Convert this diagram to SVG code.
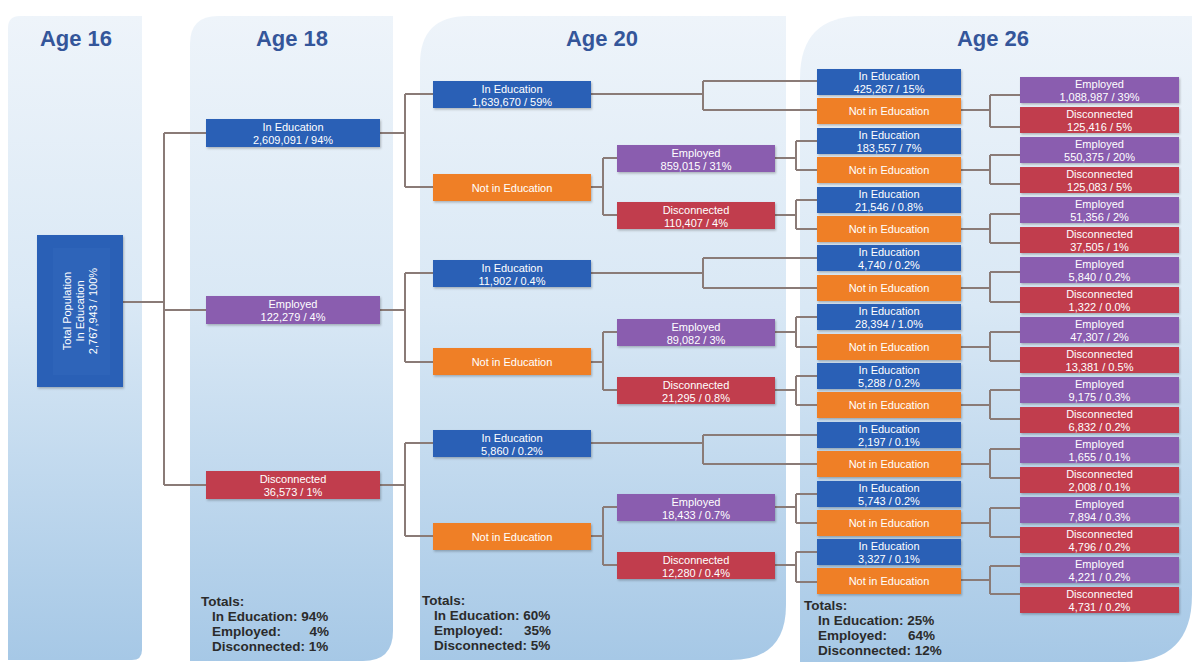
<svg xmlns="http://www.w3.org/2000/svg" width="1196" height="663" viewBox="0 0 1196 663">
<defs>
<linearGradient id="pg" x1="0" y1="0" x2="0" y2="1">
<stop offset="0" stop-color="#eef4fa"/>
<stop offset="0.45" stop-color="#d9e8f5"/>
<stop offset="1" stop-color="#a6c8e6"/>
</linearGradient>
<filter id="sh" x="-10%" y="-20%" width="120%" height="150%">
<feDropShadow dx="1" dy="1.5" stdDeviation="1" flood-color="#000" flood-opacity="0.25"/>
</filter>
</defs>
<style>
.panel{fill:url(#pg)}
.blue{fill:#2b61b6}
.orange{fill:#ef7f26}
.purple{fill:#8a5daf}
.red{fill:#c13c4e}
.box{filter:url(#sh)}
.lbl{font-family:"Liberation Sans",Arial,sans-serif;font-size:11px;fill:#fff;text-anchor:middle}
.conn path{stroke:#8a7b77;stroke-width:2;fill:none}
.head{font-family:"Liberation Sans",Arial,sans-serif;font-size:22px;font-weight:bold;fill:#34569a;text-anchor:middle}
.tot{font-family:"Liberation Sans",Arial,sans-serif;font-size:13.5px;font-weight:bold;fill:#2b2b2b}
.totr{font-family:"Liberation Sans",Arial,sans-serif;font-size:13.5px;font-weight:bold;fill:#2b2b2b;text-anchor:end}
</style>
<rect width="1196" height="663" fill="#fff"/>
<g id="panels">
<path class="panel" d="M8,28 Q8,16 20,16 H142 V650 Q142,660 132,660 H8 Z"/>
<path class="panel" d="M190,44 Q190,16 218,16 H393 V631 Q393,661 363,661 H190 Z"/>
<path class="panel" d="M420,64 Q420,16 468,16 H786 V605 Q786,660 731,660 H420 Z"/>
<path class="panel" d="M800,78 Q800,16 862,16 H1192 V595 Q1192,662 1125,662 H800 Z"/>
</g>
<g id="headings">
<text class="head" x="76" y="46">Age 16</text>
<text class="head" x="292" y="46">Age 18</text>
<text class="head" x="602" y="46">Age 20</text>
<text class="head" x="993" y="46">Age 26</text>
</g>
<g class="conn" id="connectors">
<path d="M123,302 H164 M164,133 V485 M164,133 H206 M164,310 H206 M164,485 H206"/>
<path d="M380,133 H405 M405,94 V187 M405,94 H433 M405,187 H433"/>
<path d="M380,310 H405 M405,273 V362 M405,273 H433 M405,362 H433"/>
<path d="M380,485 H405 M405,443 V536 M405,443 H433 M405,536 H433"/>
<path d="M591,94 H703 M703,81 V110 M703,81 H817 M703,110 H817"/>
<path d="M591,187 H603 M603,158 V215 M603,158 H617 M603,215 H617"/>
<path d="M775,158 H796 M796,141 V170 M796,141 H817 M796,170 H817"/>
<path d="M775,215 H796 M796,200 V229 M796,200 H817 M796,229 H817"/>
<path d="M591,273 H703 M703,258 V288 M703,258 H817 M703,288 H817"/>
<path d="M591,362 H603 M603,332 V390 M603,332 H617 M603,390 H617"/>
<path d="M775,332 H796 M796,317 V347 M796,317 H817 M796,347 H817"/>
<path d="M775,390 H796 M796,376 V405 M796,376 H817 M796,405 H817"/>
<path d="M591,443 H703 M703,435 V464 M703,435 H817 M703,464 H817"/>
<path d="M591,536 H603 M603,507 V565 M603,507 H617 M603,565 H617"/>
<path d="M775,507 H796 M796,494 V523 M796,494 H817 M796,523 H817"/>
<path d="M775,565 H796 M796,552 V582 M796,552 H817 M796,582 H817"/>
<path d="M961,110 H990 M990,95 V127 M990,95 H1020 M990,127 H1020"/>
<path d="M961,170 H990 M990,155 V184 M990,155 H1020 M990,184 H1020"/>
<path d="M961,229 H990 M990,214 V243 M990,214 H1020 M990,243 H1020"/>
<path d="M961,288 H990 M990,272 V302 M990,272 H1020 M990,302 H1020"/>
<path d="M961,347 H990 M990,332 V361 M990,332 H1020 M990,361 H1020"/>
<path d="M961,405 H990 M990,390 V419 M990,390 H1020 M990,419 H1020"/>
<path d="M961,464 H990 M990,449 V478 M990,449 H1020 M990,478 H1020"/>
<path d="M961,523 H990 M990,508 V537 M990,508 H1020 M990,537 H1020"/>
<path d="M961,580 H990 M990,566 V594 M990,566 H1020 M990,594 H1020"/>
</g>
<g id="root">
<rect class="blue box" x="37" y="235" width="86" height="152"/>
<rect x="53" y="248" width="57" height="127" fill="#2e64b9"/>
<g transform="rotate(-90 80 311)">
<text class="lbl" x="80" y="302">Total Population</text>
<text class="lbl" x="80" y="315">In Education</text>
<text class="lbl" x="80" y="328">2,767,943 / 100%</text>
</g>
</g>
<g id="a18-ined"><rect class="blue box" x="206" y="119" width="174" height="28"/><text class="lbl" x="293" y="131">In Education</text><text class="lbl" x="293" y="144">2,609,091 / 94%</text></g>
<g id="a18-emp"><rect class="purple box" x="206" y="296" width="174" height="28"/><text class="lbl" x="293" y="308">Employed</text><text class="lbl" x="293" y="321">122,279 / 4%</text></g>
<g id="a18-dis"><rect class="red box" x="206" y="471" width="174" height="28"/><text class="lbl" x="293" y="483">Disconnected</text><text class="lbl" x="293" y="496">36,573 / 1%</text></g>

<g id="a20-ined-a"><rect class="blue box" x="433" y="81" width="158" height="27"/><text class="lbl" x="512" y="92.5">In Education</text><text class="lbl" x="512" y="105.5">1,639,670 / 59%</text></g>
<g id="a20-not-a"><rect class="orange box" x="433" y="174" width="158" height="27"/><text class="lbl" x="512" y="191.5">Not in Education</text></g>
<g id="a20-emp-a"><rect class="purple box" x="617" y="145" width="158" height="27"/><text class="lbl" x="696" y="156.5">Employed</text><text class="lbl" x="696" y="169.5">859,015 / 31%</text></g>
<g id="a20-dis-a"><rect class="red box" x="617" y="202" width="158" height="27"/><text class="lbl" x="696" y="213.5">Disconnected</text><text class="lbl" x="696" y="226.5">110,407 / 4%</text></g>
<g id="a20-ined-b"><rect class="blue box" x="433" y="260" width="158" height="27"/><text class="lbl" x="512" y="271.5">In Education</text><text class="lbl" x="512" y="284.5">11,902 / 0.4%</text></g>
<g id="a20-not-b"><rect class="orange box" x="433" y="348" width="158" height="27"/><text class="lbl" x="512" y="365.5">Not in Education</text></g>
<g id="a20-emp-b"><rect class="purple box" x="617" y="319" width="158" height="27"/><text class="lbl" x="696" y="330.5">Employed</text><text class="lbl" x="696" y="343.5">89,082 / 3%</text></g>
<g id="a20-dis-b"><rect class="red box" x="617" y="377" width="158" height="27"/><text class="lbl" x="696" y="388.5">Disconnected</text><text class="lbl" x="696" y="401.5">21,295 / 0.8%</text></g>
<g id="a20-ined-c"><rect class="blue box" x="433" y="430" width="158" height="27"/><text class="lbl" x="512" y="441.5">In Education</text><text class="lbl" x="512" y="454.5">5,860 / 0.2%</text></g>
<g id="a20-not-c"><rect class="orange box" x="433" y="523" width="158" height="27"/><text class="lbl" x="512" y="540.5">Not in Education</text></g>
<g id="a20-emp-c"><rect class="purple box" x="617" y="494" width="158" height="27"/><text class="lbl" x="696" y="505.5">Employed</text><text class="lbl" x="696" y="518.5">18,433 / 0.7%</text></g>
<g id="a20-dis-c"><rect class="red box" x="617" y="552" width="158" height="27"/><text class="lbl" x="696" y="563.5">Disconnected</text><text class="lbl" x="696" y="576.5">12,280 / 0.4%</text></g>

<g id="a26a-1"><rect class="blue box" x="817" y="69" width="144" height="26"/><text class="lbl" x="889" y="80">In Education</text><text class="lbl" x="889" y="93">425,267 / 15%</text></g>
<g id="a26a-2"><rect class="orange box" x="817" y="98" width="144" height="26"/><text class="lbl" x="889" y="115">Not in Education</text></g>
<g id="a26a-3"><rect class="blue box" x="817" y="128" width="144" height="26"/><text class="lbl" x="889" y="139">In Education</text><text class="lbl" x="889" y="152">183,557 / 7%</text></g>
<g id="a26a-4"><rect class="orange box" x="817" y="157" width="144" height="26"/><text class="lbl" x="889" y="174">Not in Education</text></g>
<g id="a26a-5"><rect class="blue box" x="817" y="187" width="144" height="26"/><text class="lbl" x="889" y="198">In Education</text><text class="lbl" x="889" y="211">21,546 / 0.8%</text></g>
<g id="a26a-6"><rect class="orange box" x="817" y="216" width="144" height="26"/><text class="lbl" x="889" y="233">Not in Education</text></g>
<g id="a26a-7"><rect class="blue box" x="817" y="245" width="144" height="26"/><text class="lbl" x="889" y="256">In Education</text><text class="lbl" x="889" y="269">4,740 / 0.2%</text></g>
<g id="a26a-8"><rect class="orange box" x="817" y="275" width="144" height="26"/><text class="lbl" x="889" y="292">Not in Education</text></g>
<g id="a26a-9"><rect class="blue box" x="817" y="304" width="144" height="26"/><text class="lbl" x="889" y="315">In Education</text><text class="lbl" x="889" y="328">28,394 / 1.0%</text></g>
<g id="a26a-10"><rect class="orange box" x="817" y="334" width="144" height="26"/><text class="lbl" x="889" y="351">Not in Education</text></g>
<g id="a26a-11"><rect class="blue box" x="817" y="363" width="144" height="26"/><text class="lbl" x="889" y="374">In Education</text><text class="lbl" x="889" y="387">5,288 / 0.2%</text></g>
<g id="a26a-12"><rect class="orange box" x="817" y="392" width="144" height="26"/><text class="lbl" x="889" y="409">Not in Education</text></g>
<g id="a26a-13"><rect class="blue box" x="817" y="422" width="144" height="26"/><text class="lbl" x="889" y="433">In Education</text><text class="lbl" x="889" y="446">2,197 / 0.1%</text></g>
<g id="a26a-14"><rect class="orange box" x="817" y="451" width="144" height="26"/><text class="lbl" x="889" y="468">Not in Education</text></g>
<g id="a26a-15"><rect class="blue box" x="817" y="481" width="144" height="26"/><text class="lbl" x="889" y="492">In Education</text><text class="lbl" x="889" y="505">5,743 / 0.2%</text></g>
<g id="a26a-16"><rect class="orange box" x="817" y="510" width="144" height="26"/><text class="lbl" x="889" y="527">Not in Education</text></g>
<g id="a26a-17"><rect class="blue box" x="817" y="539" width="144" height="26"/><text class="lbl" x="889" y="550">In Education</text><text class="lbl" x="889" y="563">3,327 / 0.1%</text></g>
<g id="a26a-18"><rect class="orange box" x="817" y="568" width="144" height="26"/><text class="lbl" x="889" y="585">Not in Education</text></g>

<g id="a26b-1"><rect class="purple box" x="1020" y="77" width="159" height="26"/><text class="lbl" x="1099.5" y="88">Employed</text><text class="lbl" x="1099.5" y="101">1,088,987 / 39%</text></g>
<g id="a26b-2"><rect class="red box" x="1020" y="107" width="159" height="26"/><text class="lbl" x="1099.5" y="118">Disconnected</text><text class="lbl" x="1099.5" y="131">125,416 / 5%</text></g>
<g id="a26b-3"><rect class="purple box" x="1020" y="137" width="159" height="26"/><text class="lbl" x="1099.5" y="148">Employed</text><text class="lbl" x="1099.5" y="161">550,375 / 20%</text></g>
<g id="a26b-4"><rect class="red box" x="1020" y="167" width="159" height="26"/><text class="lbl" x="1099.5" y="178">Disconnected</text><text class="lbl" x="1099.5" y="191">125,083 / 5%</text></g>
<g id="a26b-5"><rect class="purple box" x="1020" y="197" width="159" height="26"/><text class="lbl" x="1099.5" y="208">Employed</text><text class="lbl" x="1099.5" y="221">51,356 / 2%</text></g>
<g id="a26b-6"><rect class="red box" x="1020" y="227" width="159" height="26"/><text class="lbl" x="1099.5" y="238">Disconnected</text><text class="lbl" x="1099.5" y="251">37,505 / 1%</text></g>
<g id="a26b-7"><rect class="purple box" x="1020" y="257" width="159" height="26"/><text class="lbl" x="1099.5" y="268">Employed</text><text class="lbl" x="1099.5" y="281">5,840 / 0.2%</text></g>
<g id="a26b-8"><rect class="red box" x="1020" y="287" width="159" height="26"/><text class="lbl" x="1099.5" y="298">Disconnected</text><text class="lbl" x="1099.5" y="311">1,322 / 0.0%</text></g>
<g id="a26b-9"><rect class="purple box" x="1020" y="317" width="159" height="26"/><text class="lbl" x="1099.5" y="328">Employed</text><text class="lbl" x="1099.5" y="341">47,307 / 2%</text></g>
<g id="a26b-10"><rect class="red box" x="1020" y="347" width="159" height="26"/><text class="lbl" x="1099.5" y="358">Disconnected</text><text class="lbl" x="1099.5" y="371">13,381 / 0.5%</text></g>
<g id="a26b-11"><rect class="purple box" x="1020" y="377" width="159" height="26"/><text class="lbl" x="1099.5" y="388">Employed</text><text class="lbl" x="1099.5" y="401">9,175 / 0.3%</text></g>
<g id="a26b-12"><rect class="red box" x="1020" y="407" width="159" height="26"/><text class="lbl" x="1099.5" y="418">Disconnected</text><text class="lbl" x="1099.5" y="431">6,832 / 0.2%</text></g>
<g id="a26b-13"><rect class="purple box" x="1020" y="437" width="159" height="26"/><text class="lbl" x="1099.5" y="448">Employed</text><text class="lbl" x="1099.5" y="461">1,655 / 0.1%</text></g>
<g id="a26b-14"><rect class="red box" x="1020" y="467" width="159" height="26"/><text class="lbl" x="1099.5" y="478">Disconnected</text><text class="lbl" x="1099.5" y="491">2,008 / 0.1%</text></g>
<g id="a26b-15"><rect class="purple box" x="1020" y="497" width="159" height="26"/><text class="lbl" x="1099.5" y="508">Employed</text><text class="lbl" x="1099.5" y="521">7,894 / 0.3%</text></g>
<g id="a26b-16"><rect class="red box" x="1020" y="527" width="159" height="26"/><text class="lbl" x="1099.5" y="538">Disconnected</text><text class="lbl" x="1099.5" y="551">4,796 / 0.2%</text></g>
<g id="a26b-17"><rect class="purple box" x="1020" y="557" width="159" height="26"/><text class="lbl" x="1099.5" y="568">Employed</text><text class="lbl" x="1099.5" y="581">4,221 / 0.2%</text></g>
<g id="a26b-18"><rect class="red box" x="1020" y="587" width="159" height="26"/><text class="lbl" x="1099.5" y="598">Disconnected</text><text class="lbl" x="1099.5" y="611">4,731 / 0.2%</text></g>

<g id="totals-18">
<text class="tot" x="201" y="606">Totals:</text>
<text class="tot" x="212" y="621">In Education: 94%</text>
<text class="tot" x="212" y="636">Employed:</text><text class="totr" x="329" y="636">4%</text>
<text class="tot" x="212" y="651">Disconnected: 1%</text>
</g>
<g id="totals-20">
<text class="tot" x="422" y="605">Totals:</text>
<text class="tot" x="434" y="620">In Education: 60%</text>
<text class="tot" x="434" y="635">Employed:</text><text class="totr" x="551" y="635">35%</text>
<text class="tot" x="434" y="650">Disconnected: 5%</text>
</g>
<g id="totals-26">
<text class="tot" x="804" y="610">Totals:</text>
<text class="tot" x="818" y="625">In Education: 25%</text>
<text class="tot" x="818" y="640">Employed:</text><text class="totr" x="935" y="640">64%</text>
<text class="tot" x="818" y="655">Disconnected: 12%</text>
</g>
</svg>
